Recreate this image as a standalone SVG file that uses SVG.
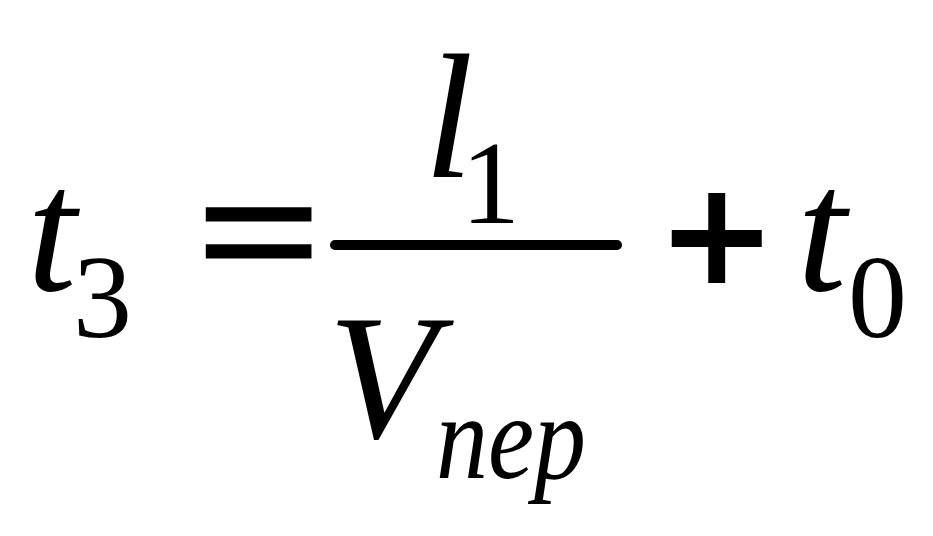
<svg xmlns="http://www.w3.org/2000/svg" width="933" height="536" viewBox="0 0 933 536">
<style>
.i{font-family:"Liberation Serif",serif;font-style:italic;font-size:178px;fill:#000}
.s{font-family:"Liberation Serif",serif;font-size:118px;fill:#000}
.si{font-family:"Liberation Serif",serif;font-style:italic;font-size:120px;fill:#000}
.o{font-family:"Liberation Serif",serif;font-size:185px;fill:#000;stroke:#000}
</style>
<rect width="933" height="536" fill="#fff"/>
<g id="lhs">
<text class="i" x="27" y="290">t</text>
<text class="s" x="73" y="337">3</text>
</g>
<g id="eq">
<text class="o" x="0" y="0" stroke-width="5" transform="translate(198,294) scale(1.16,1)">=</text>
</g>
<g id="fraction">
<rect x="330" y="240" width="292" height="10" rx="5" fill="#000"/>
<text class="i" x="424" y="177">l</text>
<text class="s" x="461" y="223">1</text>
<text class="i" x="328" y="437">V</text>
<text class="si" x="436" y="478" textLength="150" lengthAdjust="spacingAndGlyphs">nep</text>
</g>
<g id="plus">
<text class="o" x="664" y="299" font-weight="bold" stroke-width="4">+</text>
</g>
<g id="t0">
<text class="i" x="797" y="290">t</text>
<text class="s" x="848" y="337">0</text>
</g>
</svg>
